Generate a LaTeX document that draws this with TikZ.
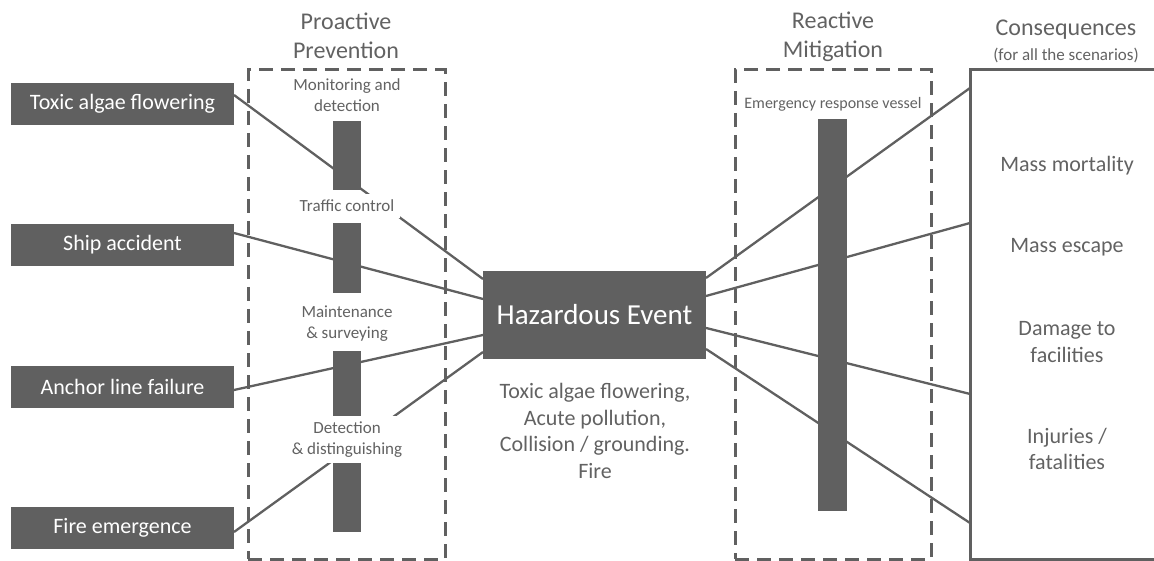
\documentclass[tikz,border=0pt]{standalone}
\usepackage{fontspec}
\setmainfont{Carlito}
\usetikzlibrary{calc}
\definecolor{boxgray}{RGB}{96,96,96}
\definecolor{txtgray}{RGB}{98,98,98}
\begin{document}
\begin{tikzpicture}[x=1pt,y=-1pt,
  causebox/.style={fill=boxgray,text=white,minimum width=223,minimum height=42,
    inner sep=0,outer sep=0,font=\fontsize{22}{26.8}\selectfont},
  barrier/.style={fill=boxgray,minimum width=28,inner sep=0,outer sep=0},
  barlabel/.style={fill=white,text=txtgray,align=center,inner xsep=6,inner ysep=6,
    font=\fontsize{17}{21}\selectfont},
  title/.style={text=txtgray,align=center,inner sep=0,
    font=\fontsize{24}{28.5}\selectfont},
  conslabel/.style={text=txtgray,align=center,inner sep=0,
    font=\fontsize{22}{26.8}\selectfont},
  zone/.style={draw=boxgray,line width=3,dash pattern=on 14 off 8,
    inner sep=0,outer sep=0},
  link/.style={draw=boxgray,line width=2.3}]
\useasboundingbox (0,0) rectangle (1154,561);

% causes
\node[causebox] (toxic)  at (122.5,104) {Toxic algae flowering};
\node[causebox] (ship)   at (122.5,245) {Ship accident};
\node[causebox] (anchor) at (122.5,387) {Anchor line failure};
\node[causebox] (fire)   at (122.5,528) {Fire emergence};

% barrier zones
\node[zone,minimum width=197,minimum height=489] (pro) at (346.5,314.5) {};
\node[zone,minimum width=196,minimum height=489] (rea) at (833,314.5) {};
\node[title] (protitle) at (346,36) {Proactive\\Prevention};
\node[title] (reatitle) at (833,37) {Reactive\\Mitigation};

% top event
\node[fill=boxgray,text=white,minimum width=223,minimum height=88,inner sep=0,
  outer sep=0,font=\fontsize{29}{34}\selectfont] (haz) at (594.5,315) {Hazardous Event};
\node[conslabel] (hazdesc) at (595,431) {Toxic algae flowering,\\Acute pollution,\\Collision / grounding.\\Fire};

% consequences
\begin{scope}
\clip (0,0) rectangle (1154,561);
\node[draw=boxgray,line width=3,minimum width=240,minimum height=489,inner sep=0,
  outer sep=0] (cons) at (1090,314.5) {};
\end{scope}
\node[title] (constitle) at (1066,30) {Consequences};
\node[text=txtgray,inner sep=0,font=\fontsize{17}{20}\selectfont] (conssub) at (1066,55) {(for all the scenarios)};
\node[conslabel] (c1) at (1067,166) {Mass mortality};
\node[conslabel] (c2) at (1067,247) {Mass escape};
\node[conslabel] (c3) at (1067,342) {Damage to\\facilities};
\node[conslabel] (c4) at (1067,449) {Injuries /\\fatalities};

% connectors
\draw[link] ($(toxic.north east)+(0,12)$)  -- ($(haz.north west)+(0,8)$);
\draw[link] ($(ship.north east)+(0,9)$)    -- ($(haz.north west)+(0,28)$);
\draw[link] ($(anchor.north east)+(0,24)$) -- ($(haz.north west)+(0,64)$);
\draw[link] ($(fire.north east)+(0,25)$)   -- ($(haz.north west)+(0,81)$);
\draw[link] ($(haz.north east)+(0,7)$)  -- ($(cons.north west)+(0,18)$);
\draw[link] ($(haz.north east)+(0,25)$) -- ($(cons.north west)+(0,153)$);
\draw[link] ($(haz.north east)+(0,57)$) -- ($(cons.north west)+(0,324)$);
\draw[link] ($(haz.north east)+(0,78)$) -- ($(cons.north west)+(0,453)$);

% preventive barriers
\node[barrier,minimum height=69] (b1) at (347,155.5) {};
\node[barrier,minimum height=70] (b2) at (347,258) {};
\node[barrier,minimum height=69] (b3) at (347,385.5) {};
\node[barrier,minimum height=70] (b4) at (347,497) {};
\node[barlabel] (l1) at (347,95) {Monitoring and\\detection};
\node[barlabel] (l2) at (347,206) {Traffic control};
\node[barlabel] (l3) at (347,323.5) {Maintenance\\\& surveying};
\node[barlabel] (l4) at (347,439.5) {Detection\\\& distinguishing};

% mitigation barrier
\node[barrier,minimum width=29,minimum height=392] (m1) at (832.5,315) {};
\node[text=txtgray,inner sep=0,font=\fontsize{16}{19}\selectfont] (ml) at (833,104) {Emergency response vessel};
\end{tikzpicture}
\end{document}
